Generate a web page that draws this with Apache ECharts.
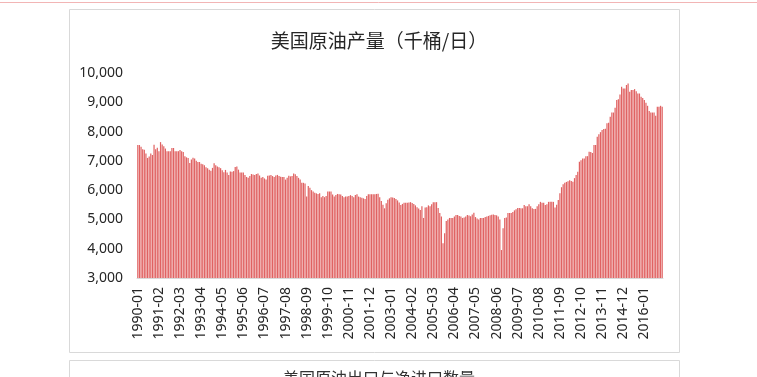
<!DOCTYPE html>
<html>
<head>
<meta charset="utf-8">
<script src="https://cdn.jsdelivr.net/npm/echarts@6/dist/echarts.min.js"></script>
<style>
  html, body { margin: 0; padding: 0; background: #fff; }
  #main { width: 757px; height: 377px; }
</style>
</head>
<body>
<div id="main"></div>
<script>
// 月度原油产量，千桶/日，1990-01 ~ 2016-12
var prod1990 = [7540, 7540, 7480, 7400, 7380, 7250, 7100, 7150, 7250, 7200, 7550, 7400];
var prod1991 = [7450, 7330, 7640, 7560, 7500, 7420, 7330, 7330, 7330, 7440, 7440, 7330];
var prod1992 = [7330, 7330, 7370, 7330, 7300, 7160, 7120, 7100, 6925, 7050, 7110, 7080];
var prod1993 = [7000, 6960, 6960, 6900, 6880, 6850, 6780, 6750, 6700, 6660, 6760, 6920];
var prod1994 = [6850, 6810, 6780, 6750, 6680, 6610, 6690, 6600, 6520, 6640, 6630, 6650];
var prod1995 = [6790, 6810, 6700, 6600, 6600, 6600, 6520, 6450, 6420, 6480, 6550, 6530];
var prod1996 = [6520, 6550, 6570, 6500, 6420, 6450, 6400, 6360, 6490, 6500, 6520, 6480];
var prod1997 = [6450, 6500, 6520, 6480, 6460, 6450, 6450, 6360, 6420, 6490, 6470, 6480];
var prod1998 = [6570, 6540, 6480, 6420, 6360, 6250, 6250, 6230, 5780, 6140, 6080, 6000];
var prod1999 = [5950, 5910, 5890, 5870, 5890, 5760, 5800, 5760, 5800, 5950, 5950, 5950];
var prod2000 = [5850, 5780, 5830, 5870, 5860, 5850, 5800, 5760, 5780, 5780, 5800, 5830];
var prod2001 = [5800, 5760, 5830, 5860, 5780, 5760, 5740, 5720, 5700, 5800, 5860, 5860];
var prod2002 = [5860, 5860, 5860, 5870, 5880, 5760, 5630, 5500, 5380, 5550, 5670, 5720];
var prod2003 = [5760, 5750, 5730, 5700, 5650, 5580, 5490, 5530, 5570, 5570, 5570, 5580];
var prod2004 = [5590, 5560, 5530, 5480, 5420, 5370, 5320, 5450, 5050, 5410, 5420, 5480];
var prod2005 = [5450, 5520, 5590, 5590, 5590, 5390, 5220, 5100, 4190, 4530, 4950, 5000];
var prod2006 = [5050, 5050, 5050, 5100, 5150, 5150, 5120, 5100, 5050, 5070, 5100, 5150];
var prod2007 = [5130, 5110, 5170, 5230, 5080, 5030, 5000, 5050, 5050, 5050, 5080, 5100];
var prod2008 = [5120, 5140, 5160, 5170, 5150, 5140, 5100, 5000, 3955, 4700, 5050, 5070];
var prod2009 = [5220, 5220, 5220, 5250, 5310, 5350, 5390, 5390, 5380, 5380, 5490, 5450];
var prod2010 = [5450, 5520, 5450, 5380, 5360, 5360, 5450, 5520, 5600, 5570, 5570, 5490];
var prod2011 = [5520, 5600, 5600, 5600, 5600, 5410, 5500, 5660, 5890, 6100, 6200, 6250];
var prod2012 = [6280, 6300, 6340, 6310, 6290, 6410, 6520, 6630, 6970, 7020, 7080, 7080];
var prod2013 = [7160, 7160, 7310, 7300, 7270, 7540, 7540, 7820, 7910, 7980, 8050, 8085];
var prod2014 = [8100, 8280, 8300, 8510, 8650, 8650, 8810, 9075, 9100, 9270, 9530, 9470];
var prod2015 = [9470, 9590, 9640, 9360, 9420, 9420, 9450, 9380, 9300, 9300, 9190, 9150];
var prod2016 = [9075, 8980, 8880, 8700, 8650, 8650, 8650, 8540, 8850, 8850, 8880, 8850];

var yTicks = [3000, 4000, 5000, 6000, 7000, 8000, 9000, 10000];

var prodData = [].concat(prod1990, prod1991, prod1992, prod1993, prod1994, prod1995,
    prod1996, prod1997, prod1998, prod1999, prod2000, prod2001, prod2002, prod2003,
    prod2004, prod2005, prod2006, prod2007, prod2008, prod2009, prod2010, prod2011,
    prod2012, prod2013, prod2014, prod2015, prod2016);

// 月份类目
var months = [];
for (var y = 1990; y <= 2016; y++) {
    for (var m = 1; m <= 12; m++) {
        months.push(y + '-' + (m < 10 ? '0' + m : m));
    }
}

var chart = echarts.init(document.getElementById('main'), null, {renderer: 'canvas'});

var option = {
    backgroundColor: '#fff',
    animation: false,
    title: {
        text: '美国原油产量（千桶/日）',
        left: 374,
        top: 26,
        textAlign: 'center',
        textStyle: {
            fontFamily: 'Noto Sans CJK SC',
            fontSize: 19,
            fontWeight: 'normal',
            color: '#262626'
        }
    },
    graphic: [
        { type: 'line', shape: {x1: 0, y1: 2.5, x2: 757, y2: 2.5}, style: {stroke: '#f2b5b5', lineWidth: 1} },
        { type: 'rect', shape: {x: 69.5, y: 9.5, width: 610, height: 343}, style: {fill: 'none', stroke: '#d9d9d9', lineWidth: 1} },
        { type: 'rect', shape: {x: 69.5, y: 360.5, width: 610, height: 40}, style: {fill: 'none', stroke: '#d9d9d9', lineWidth: 1} },
        { type: 'text', left: 283, top: 370, style: {text: '美国原油出口与净进口数量', font: '16px "Noto Sans CJK SC"', fill: '#333'} }
    ],
    grid: {
        left: 137,
        right: 94,
        top: 73,
        bottom: 99
    },
    xAxis: {
        type: 'category',
        data: months,
        axisLine: { lineStyle: { color: '#d9d9d9' } },
        axisTick: { interval: 12, length: 5, lineStyle: { color: '#d9d9d9' } },
        axisLabel: {
            interval: 12,
            rotate: 90,
            margin: 9,
            fontFamily: 'Noto Sans',
            fontSize: 14,
            color: '#262626'
        }
    },
    yAxis: {
        type: 'value',
        min: yTicks[0],
        max: yTicks[yTicks.length - 1],
        interval: 1000,
        splitLine: { show: false },
        axisLine: { show: false },
        axisTick: { show: false },
        axisLabel: {
            margin: 14,
            fontFamily: 'Noto Sans',
            fontSize: 14,
            color: '#262626',
            formatter: function (v) { return v.toLocaleString('en-US'); }
        }
    },
    series: [{
        name: '美国原油产量',
        type: 'bar',
        data: prodData,
        barCategoryGap: '25%',
        itemStyle: { color: '#e06262' }
    }]
};
chart.setOption(option);
</script>
</body>
</html>
